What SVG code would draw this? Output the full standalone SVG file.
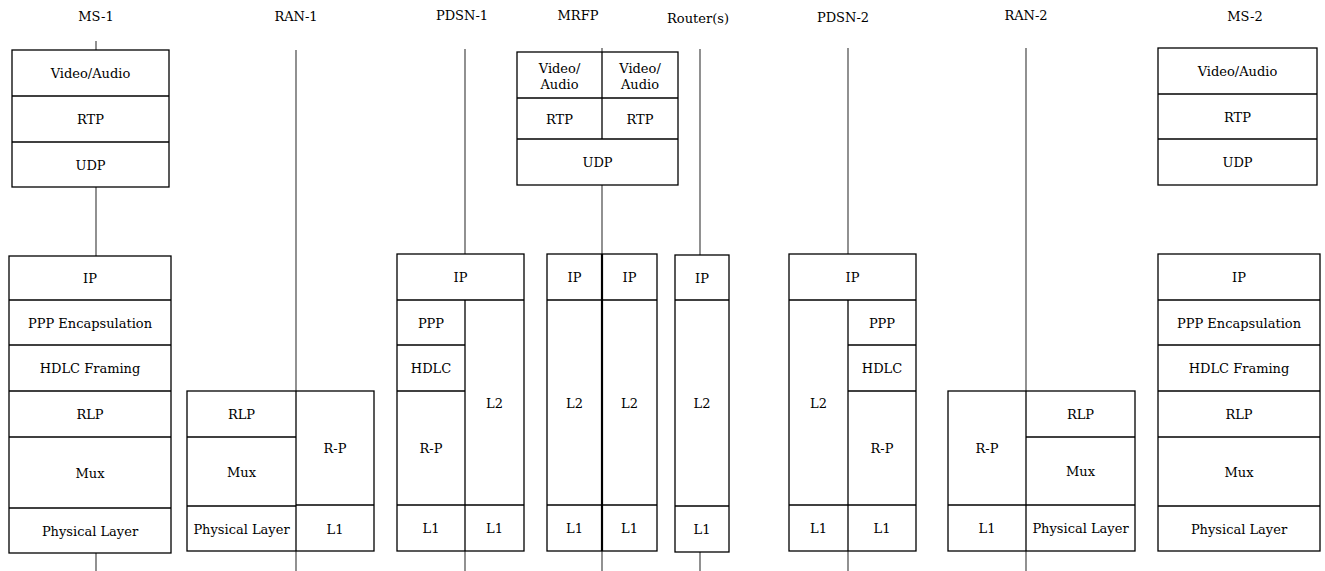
<svg xmlns="http://www.w3.org/2000/svg" width="1325" height="571" viewBox="0 0 1325 571">
<style>
.b{fill:#fff;stroke:#000;stroke-width:1.3}
.d{stroke:#000;stroke-width:1.3;fill:none}
.c{stroke:#555;stroke-width:1.3;fill:none}
text{font-family:'DejaVu Serif','Liberation Serif',serif;font-size:13px;fill:#000;text-anchor:middle}
</style>
<rect width="1325" height="571" fill="#fff"/>
<g id="connectors">
<line class="c" x1="96" y1="41" x2="96" y2="50"/>
<line class="c" x1="96" y1="187" x2="96" y2="256"/>
<line class="c" x1="96" y1="553" x2="96" y2="571"/>
<line class="c" x1="296" y1="50" x2="296" y2="391"/>
<line class="c" x1="296" y1="551" x2="296" y2="571"/>
<line class="c" x1="465" y1="49" x2="465" y2="254"/>
<line class="c" x1="465" y1="551" x2="465" y2="571"/>
<line class="c" x1="602" y1="48" x2="602" y2="52"/>
<line class="c" x1="602" y1="185" x2="602" y2="254"/>
<line class="c" x1="602" y1="551" x2="602" y2="571"/>
<line class="c" x1="700" y1="49" x2="700" y2="255"/>
<line class="c" x1="700" y1="552" x2="700" y2="571"/>
<line class="c" x1="848" y1="48" x2="848" y2="254"/>
<line class="c" x1="848" y1="551" x2="848" y2="571"/>
<line class="c" x1="1026" y1="48" x2="1026" y2="391"/>
<line class="c" x1="1026" y1="551" x2="1026" y2="571"/>
</g>
<g id="labels">
<text x="96" y="21">MS-1</text>
<text x="296" y="21">RAN-1</text>
<text x="462" y="20">PDSN-1</text>
<text x="578" y="19.5">MRFP</text>
<text x="698" y="23">Router(s)</text>
<text x="843" y="22">PDSN-2</text>
<text x="1026" y="20">RAN-2</text>
<text x="1245" y="21">MS-2</text>
</g>
<g id="ms1-top">
<rect class="b" x="12" y="50" width="157" height="137"/>
<line class="d" x1="12" y1="96" x2="169" y2="96"/>
<line class="d" x1="12" y1="142" x2="169" y2="142"/>
<text x="90.5" y="78">Video/Audio</text>
<text x="90.5" y="124">RTP</text>
<text x="90.5" y="169.5">UDP</text>
</g>
<g id="ms1-bottom">
<rect class="b" x="9" y="256" width="162" height="297"/>
<line class="d" x1="9" y1="300" x2="171" y2="300"/>
<line class="d" x1="9" y1="345" x2="171" y2="345"/>
<line class="d" x1="9" y1="391" x2="171" y2="391"/>
<line class="d" x1="9" y1="437" x2="171" y2="437"/>
<line class="d" x1="9" y1="508" x2="171" y2="508"/>
<text x="90" y="283">IP</text>
<text x="90" y="327.5">PPP Encapsulation</text>
<text x="90" y="373">HDLC Framing</text>
<text x="90" y="419">RLP</text>
<text x="90" y="477.5">Mux</text>
<text x="90" y="535.5">Physical Layer</text>
</g>
<g id="ran1">
<rect class="b" x="187" y="391" width="187" height="160"/>
<line class="d" x1="296" y1="391" x2="296" y2="551"/>
<line class="d" x1="187" y1="437" x2="296" y2="437"/>
<line class="d" x1="187" y1="506" x2="296" y2="506"/>
<line class="d" x1="296" y1="505" x2="374" y2="505"/>
<text x="241.5" y="419">RLP</text>
<text x="241.5" y="476.5">Mux</text>
<text x="241.5" y="533.5">Physical Layer</text>
<text x="335" y="453">R-P</text>
<text x="335" y="533.5">L1</text>
</g>
<g id="pdsn1">
<rect class="b" x="397" y="254" width="127" height="297"/>
<line class="d" x1="397" y1="300" x2="524" y2="300"/>
<line class="d" x1="465" y1="300" x2="465" y2="551"/>
<line class="d" x1="397" y1="345" x2="465" y2="345"/>
<line class="d" x1="397" y1="391" x2="465" y2="391"/>
<line class="d" x1="397" y1="505" x2="524" y2="505"/>
<text x="460.5" y="282">IP</text>
<text x="431" y="327.5">PPP</text>
<text x="431" y="373">HDLC</text>
<text x="431" y="453">R-P</text>
<text x="431" y="533">L1</text>
<text x="494.5" y="407.5">L2</text>
<text x="494.5" y="533">L1</text>
</g>
<g id="mrfp-top">
<rect class="b" x="517" y="52" width="161" height="133"/>
<line class="d" x1="602" y1="52" x2="602" y2="139"/>
<line class="d" x1="517" y1="98" x2="678" y2="98"/>
<line class="d" x1="517" y1="139" x2="678" y2="139"/>
<text x="559.5" y="73">Video/</text>
<text x="559.5" y="88.5">Audio</text>
<text x="640" y="73">Video/</text>
<text x="640" y="88.5">Audio</text>
<text x="559.5" y="123.5">RTP</text>
<text x="640" y="123.5">RTP</text>
<text x="597.5" y="167">UDP</text>
</g>
<g id="mrfp-bottom">
<rect class="b" x="547" y="254" width="110" height="297"/>
<line class="d" x1="602" y1="254" x2="602" y2="551" style="stroke-width:2.2"/>
<line class="d" x1="547" y1="300" x2="657" y2="300"/>
<line class="d" x1="547" y1="505" x2="657" y2="505"/>
<text x="574.5" y="282">IP</text>
<text x="629.5" y="282">IP</text>
<text x="574.5" y="407.5">L2</text>
<text x="629.5" y="407.5">L2</text>
<text x="574.5" y="533">L1</text>
<text x="629.5" y="533">L1</text>
</g>
<g id="router">
<rect class="b" x="675" y="255" width="54" height="297"/>
<line class="d" x1="675" y1="300" x2="729" y2="300"/>
<line class="d" x1="675" y1="506" x2="729" y2="506"/>
<text x="702" y="282.5">IP</text>
<text x="702" y="408">L2</text>
<text x="702" y="534">L1</text>
</g>
<g id="pdsn2">
<rect class="b" x="789" y="254" width="127" height="297"/>
<line class="d" x1="789" y1="300" x2="916" y2="300"/>
<line class="d" x1="848" y1="300" x2="848" y2="551"/>
<line class="d" x1="848" y1="345" x2="916" y2="345"/>
<line class="d" x1="848" y1="391" x2="916" y2="391"/>
<line class="d" x1="789" y1="505" x2="916" y2="505"/>
<text x="852.5" y="282">IP</text>
<text x="818.5" y="407.5">L2</text>
<text x="818.5" y="533">L1</text>
<text x="882" y="327.5">PPP</text>
<text x="882" y="373">HDLC</text>
<text x="882" y="453">R-P</text>
<text x="882" y="533">L1</text>
</g>
<g id="ran2">
<rect class="b" x="948" y="391" width="187" height="160"/>
<line class="d" x1="1026" y1="391" x2="1026" y2="551"/>
<line class="d" x1="1026" y1="437" x2="1135" y2="437"/>
<line class="d" x1="948" y1="505" x2="1135" y2="505"/>
<text x="987" y="453">R-P</text>
<text x="987" y="533">L1</text>
<text x="1080.5" y="419">RLP</text>
<text x="1080.5" y="476">Mux</text>
<text x="1080.5" y="533">Physical Layer</text>
</g>
<g id="ms2-top">
<rect class="b" x="1158" y="48" width="159" height="137"/>
<line class="d" x1="1158" y1="94" x2="1317" y2="94"/>
<line class="d" x1="1158" y1="139" x2="1317" y2="139"/>
<text x="1237.5" y="76">Video/Audio</text>
<text x="1237.5" y="121.5">RTP</text>
<text x="1237.5" y="167">UDP</text>
</g>
<g id="ms2-bottom">
<rect class="b" x="1158" y="254" width="162" height="297"/>
<line class="d" x1="1158" y1="300" x2="1320" y2="300"/>
<line class="d" x1="1158" y1="345" x2="1320" y2="345"/>
<line class="d" x1="1158" y1="391" x2="1320" y2="391"/>
<line class="d" x1="1158" y1="437" x2="1320" y2="437"/>
<line class="d" x1="1158" y1="506" x2="1320" y2="506"/>
<text x="1239" y="282">IP</text>
<text x="1239" y="327.5">PPP Encapsulation</text>
<text x="1239" y="373">HDLC Framing</text>
<text x="1239" y="419">RLP</text>
<text x="1239" y="476.5">Mux</text>
<text x="1239" y="533.5">Physical Layer</text>
</g>
</svg>
